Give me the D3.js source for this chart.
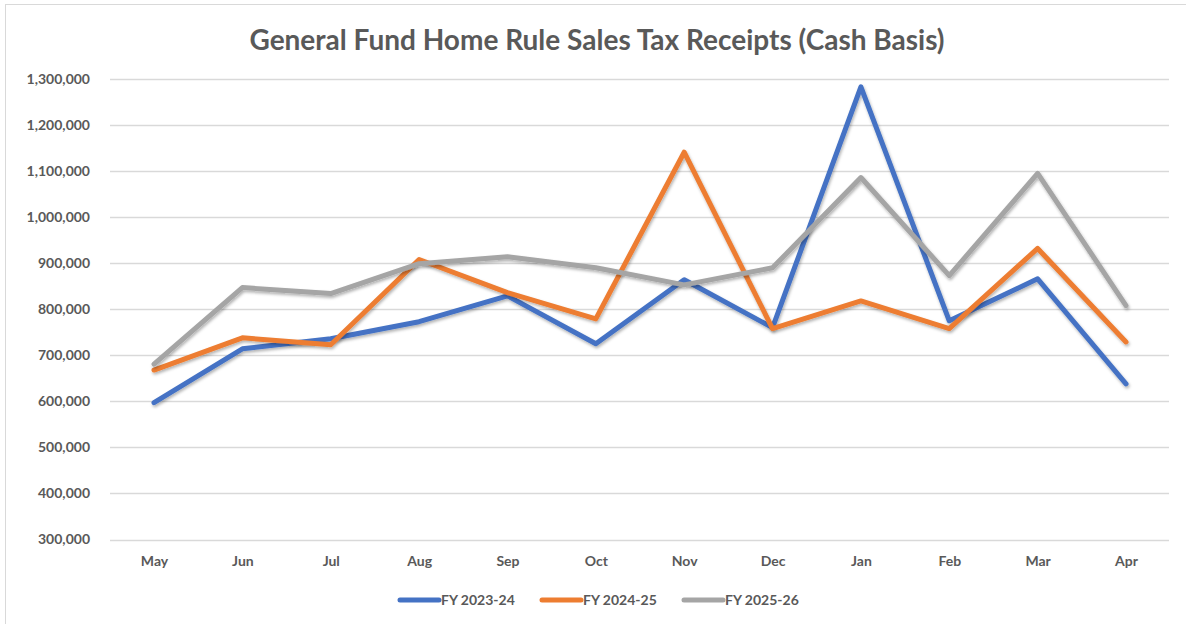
<!DOCTYPE html>
<html>
<head>
<meta charset="utf-8">
<script src="https://cdn.jsdelivr.net/npm/d3@7"></script>
<style>
  body { margin: 0; background: #fff; }
  text { font-family: Lato, "Open Sans", sans-serif; fill: #595959; }
</style>
</head>
<body>
<div id="chart"></div>
<script>
const months = ['May', 'Jun', 'Jul', 'Aug', 'Sep', 'Oct', 'Nov', 'Dec', 'Jan', 'Feb', 'Mar', 'Apr']
const seriesNames = ['FY 2023-24', 'FY 2024-25', 'FY 2025-26']
const fy2324 = [597000, 714000, 736000, 773000, 829000, 725000, 864000, 760000, 1283000, 775000, 866000, 638000]
const fy2425 = [668000, 738000, 723000, 908000, 836000, 779000, 1141000, 758000, 818000, 758000, 932000, 729000]
const fy2526 = [681000, 847000, 834000, 899000, 914000, 890000, 853000, 890000, 1086000, 873000, 1095000, 808000]
const yTicks = [300000, 400000, 500000, 600000, 700000, 800000, 900000, 1000000, 1100000, 1200000, 1300000]
const colors = ['#4472C4', '#ED7D31', '#A5A5A5']

const W = 1186, H = 624
const margin = { top: 79, left: 110, right: 17, bottom: 85 }
const width = W - margin.left - margin.right
const height = H - margin.top - margin.bottom

const svg = d3.select('#chart').append('svg')
  .attr('width', W).attr('height', H)

// outer chart border (only top/left visible in frame)
svg.append('rect')
  .attr('x', 5.5).attr('y', 4.5)
  .attr('width', W + 10).attr('height', H + 10)
  .attr('fill', 'none').attr('stroke', '#d9d9d9')

const defs = svg.append('defs')
const f = defs.append('filter').attr('id', 'shadow')
  .attr('x', '-5%').attr('y', '-5%').attr('width', '110%').attr('height', '120%')
f.append('feDropShadow').attr('dx', 1).attr('dy', 2).attr('stdDeviation', 1.5)
  .attr('flood-color', '#000').attr('flood-opacity', 0.3)

svg.append('text')
  .attr('x', 597).attr('y', 50)
  .attr('text-anchor', 'middle')
  .style('font-size', '28px').style('font-weight', 'bold')
  .text('General Fund Home Rule Sales Tax Receipts (Cash Basis)')

const g = svg.append('g').attr('transform', 'translate(' + margin.left + ',' + margin.top + ')')

const x = d3.scalePoint().domain(months).range([44, width - 43])
const y = d3.scaleLinear().domain([300000, 1300000]).range([height + 0.5, 0])

// gridlines
g.selectAll('.grid').data(yTicks).enter().append('line')
  .attr('x1', 0).attr('x2', width)
  .attr('y1', d => Math.round(y(d)) + 0.5).attr('y2', d => Math.round(y(d)) + 0.5)
  .attr('stroke', '#d9d9d9').attr('stroke-width', 1.3)

const yAxis = g.append('g')
  .call(d3.axisLeft(y).tickValues(yTicks).tickFormat(d3.format(',')).tickSize(0).tickPadding(20))
yAxis.select('.domain').remove()
yAxis.selectAll('text').style('font-size', '14px').style('font-weight', 'bold').attr('fill', '#595959')

const xAxis = g.append('g').attr('transform', 'translate(0,' + height + ')')
  .call(d3.axisBottom(x).tickSize(0).tickPadding(17))
xAxis.select('.domain').remove()
xAxis.selectAll('text').style('font-size', '14px').style('font-weight', 'bold').attr('fill', '#595959')

const allSeries = [fy2324, fy2425, fy2526]
const line = d3.line().x((d, i) => x(months[i])).y(d => y(d))

g.selectAll('.series').data(allSeries).enter().append('path')
  .attr('class', 'series')
  .attr('d', d => line(d))
  .attr('fill', 'none')
  .attr('stroke', (d, i) => colors[i])
  .attr('stroke-width', 5)
  .attr('stroke-linejoin', 'round')
  .attr('stroke-linecap', 'round')
  .attr('filter', 'url(#shadow)')

// legend
const legendX = [400, 542, 684]
const legend = svg.selectAll('.legend').data(seriesNames).enter().append('g')
  .attr('transform', (d, i) => 'translate(' + legendX[i] + ',600)')
legend.append('line')
  .attr('x1', 0).attr('x2', 39).attr('y1', 0).attr('y2', 0)
  .attr('stroke', (d, i) => colors[i]).attr('stroke-width', 5).attr('stroke-linecap', 'round')
legend.append('text')
  .attr('x', 41).attr('y', 5)
  .style('font-size', '14px').style('font-weight', 'bold')
  .text(d => d)
</script>
</body>
</html>
